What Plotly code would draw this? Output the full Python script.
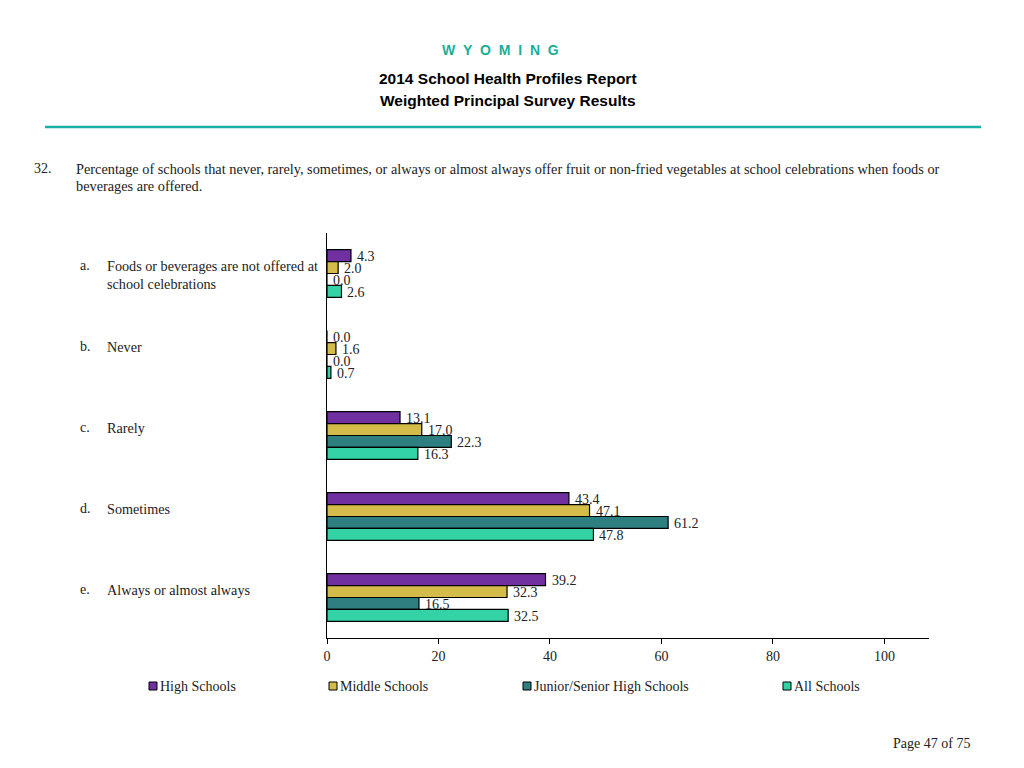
import plotly.graph_objects as go

categories = ["a", "b", "c", "d", "e"]
letters = ["a.", "b.", "c.", "d.", "e."]
cat_labels = ["Foods or beverages are not offered at<br>school celebrations", "Never", "Rarely",
              "Sometimes", "Always or almost always"]
series_names = ["High Schools", "Middle Schools", "Junior/Senior High Schools", "All Schools"]
high = [4.3, 0.0, 13.1, 43.4, 39.2]
middle = [2.0, 1.6, 17.0, 47.1, 32.3]
junior = [0.0, 0.0, 22.3, 61.2, 16.5]
all_s = [2.6, 0.7, 16.3, 47.8, 32.5]
colors = ["#7030A0", "#D4BC4A", "#2E7F80", "#33D3A6"]
x_ticks = [0, 20, 40, 60, 80, 100]

OFF = 8  # page body margin
W, H = 1024, 768
L, T = 327 - OFF, 233 - OFF
R = W - (929 - OFF)
B = H - (638 - OFF)
pw = W - L - R
ph = H - T - B
BARGAP = 0.41
bar_px = ph / len(categories) * (1 - BARGAP) / 4

def px(x):
    return (x - OFF - L) / pw

def py(y):
    return (H - B - (y - OFF)) / ph

serif = "Liberation Serif, Times New Roman, serif"
sans = "Liberation Sans, Arial, sans-serif"
TXT = "#222"

fig = go.Figure()
ann = []
for i, (name, vals, col) in enumerate(zip(series_names, [high, middle, junior, all_s], colors)):
    fig.add_trace(go.Bar(
        y=categories, x=vals, name=name, orientation="h",
        marker=dict(color=col, line=dict(color="black", width=1.2)),
        showlegend=False, hoverinfo="x+name",
    ))
    for c, v in zip(categories, vals):
        ann.append(dict(x=v, xref="x", y=c, yref="y", text=f"{v:.1f}", showarrow=False,
                        xanchor="left", yanchor="middle", xshift=4,
                        yshift=-(i - 1.5) * bar_px - 1,
                        font=dict(family=serif, size=14, color=TXT)))

fig.update_layout(
    width=W, height=H, barmode="group", bargap=BARGAP, bargroupgap=0,
    margin=dict(l=L, r=R, t=T, b=B, pad=0),
    plot_bgcolor="white", paper_bgcolor="white",
    xaxis=dict(range=[0, 108], tickvals=x_ticks, showgrid=False, zeroline=False,
               showline=True, linecolor="black", linewidth=1.2, ticks="outside",
               ticklen=5, tickcolor="black",
               tickfont=dict(family=serif, size=14, color=TXT)),
    yaxis=dict(autorange="reversed", showticklabels=False, showgrid=False,
               showline=True, linecolor="black", linewidth=1.2, ticks=""),
)

for c, let, lab in zip(categories, letters, cat_labels):
    ann.append(dict(x=px(78), xref="paper", y=c, yref="y", text=let, showarrow=False,
                    xanchor="left", yanchor="top", yshift=18,
                    font=dict(family=serif, size=14, color=TXT)))
    ann.append(dict(x=px(105), xref="paper", y=c, yref="y", text=lab, showarrow=False,
                    xanchor="left", yanchor="top", yshift=18, align="left",
                    font=dict(family=serif, size=14.2, color=TXT)))

sp = "\u00a0\u00a0"
wy = sp.join("WYOMING")
ann += [
    dict(x=px(500), xref="paper", y=py(50), yref="paper", text=f"<b>{wy}</b>", showarrow=False,
         xanchor="center", yanchor="middle", font=dict(family=sans, size=14, color="#1AAE98")),
    dict(x=px(508), xref="paper", y=py(78), yref="paper", text="<b>2014 School Health Profiles Report</b>",
         showarrow=False, xanchor="center", yanchor="middle", font=dict(family=sans, size=15.5, color="black")),
    dict(x=px(508), xref="paper", y=py(100), yref="paper", text="<b>Weighted Principal Survey Results</b>",
         showarrow=False, xanchor="center", yanchor="middle", font=dict(family=sans, size=15.5, color="black")),
    dict(x=px(32), xref="paper", y=py(169), yref="paper", text="32.", showarrow=False,
         xanchor="left", yanchor="middle", font=dict(family=serif, size=14, color=TXT)),
    dict(x=px(74), xref="paper", y=py(169), yref="paper",
         text="Percentage of schools that never, rarely, sometimes, or always or almost always offer fruit or non-fried vegetables at school celebrations when foods or",
         showarrow=False, xanchor="left", yanchor="middle", font=dict(family=serif, size=14.3, color=TXT)),
    dict(x=px(74), xref="paper", y=py(186), yref="paper", text="beverages are offered.", showarrow=False,
         xanchor="left", yanchor="middle", font=dict(family=serif, size=14.3, color=TXT)),
    dict(x=px(972), xref="paper", y=py(743), yref="paper", text="Page 47 of 75", showarrow=False,
         xanchor="right", yanchor="middle", font=dict(family=serif, size=14, color=TXT)),
]

shapes = [dict(type="line", xref="paper", yref="paper", x0=px(45), x1=px(981), y0=py(127), y1=py(127),
               line=dict(color="#1AAEA8", width=2.5))]

legend_x = [149, 329, 523, 783]
for name, col, lx in zip(series_names, colors, legend_x):
    shapes.append(dict(type="rect", xref="paper", yref="paper", x0=px(lx), x1=px(lx + 8),
                       y0=py(690), y1=py(682), fillcolor=col, line=dict(color="black", width=1)))
    ann.append(dict(x=px(lx + 9), xref="paper", y=py(686), yref="paper", text=name, showarrow=False,
                    xanchor="left", yanchor="middle", font=dict(family=serif, size=14, color=TXT)))

fig.update_layout(annotations=ann, shapes=shapes)
fig.write_html("out.html")
